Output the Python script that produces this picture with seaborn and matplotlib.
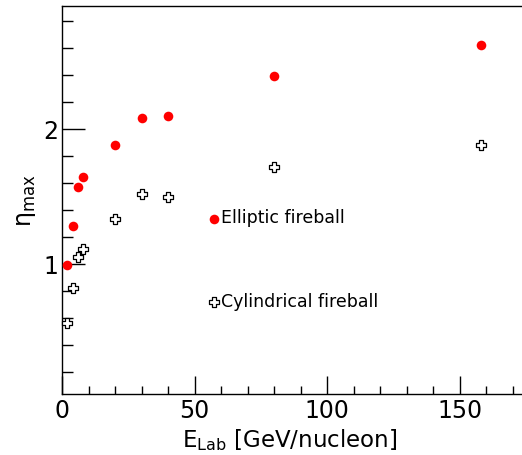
import matplotlib
matplotlib.use("Agg")
import matplotlib.pyplot as plt
import seaborn as sns
import pandas as pd
from matplotlib.ticker import MultipleLocator, FixedLocator

# Data
energy = [2, 4, 6, 8, 20, 30, 40, 80, 158]
eta_elliptic = [0.99, 1.28, 1.57, 1.645, 1.88, 2.085, 2.095, 2.39, 2.62]
eta_cylindrical = [0.565, 0.825, 1.055, 1.11, 1.335, 1.52, 1.50, 1.72, 1.88]
series_labels = ["Elliptic fireball", "Cylindrical fireball"]
x_ticks = [0, 50, 100, 150]
y_ticks = [1, 2]

sns.set_style("white")
plt.rcParams["font.family"] = ["DejaVu Sans"]
plt.rcParams["mathtext.fontset"] = "dejavusans"
plt.rcParams["text.color"] = "black"
plt.rcParams["axes.labelcolor"] = "black"
plt.rcParams["xtick.color"] = "black"
plt.rcParams["ytick.color"] = "black"

fig = plt.figure(figsize=(5.22, 4.55), dpi=100)
ax = fig.add_axes([62 / 522, 60.7 / 455, 478 / 522, 388 / 455])

df_e = pd.DataFrame({"E": energy, "eta": eta_elliptic})
df_c = pd.DataFrame({"E": energy, "eta": eta_cylindrical})

sns.scatterplot(data=df_e, x="E", y="eta", ax=ax, color="#ff0000", marker="o",
                s=48, linewidth=0, label=series_labels[0], clip_on=False, zorder=3)
sns.scatterplot(data=df_c, x="E", y="eta", ax=ax, color="white", marker="P",
                s=55, edgecolor="black", linewidth=0.9, label=series_labels[1],
                clip_on=False, zorder=3)

ax.set_xlim(0, 180.2)
ax.set_ylim(0.035, 2.91)

ax.xaxis.set_major_locator(FixedLocator(x_ticks))
ax.xaxis.set_minor_locator(MultipleLocator(10))
ax.yaxis.set_major_locator(FixedLocator(y_ticks))
ax.yaxis.set_minor_locator(MultipleLocator(0.2))
ax.set_xticklabels([str(t) for t in x_ticks])
ax.set_yticklabels([str(t) for t in y_ticks])

ax.tick_params(axis="both", which="both", direction="in", color="black", width=1.0,
               labelsize=17, labelcolor="black", top=False, right=False,
               bottom=True, left=True)
ax.tick_params(axis="y", which="major", length=16.5, pad=3)
ax.tick_params(axis="y", which="minor", length=8)
ax.tick_params(axis="x", which="major", length=13, pad=3.5)
ax.tick_params(axis="x", which="minor", length=6)

for side in ["left", "bottom", "top", "right"]:
    ax.spines[side].set_visible(True)
    ax.spines[side].set_color("black")
    ax.spines[side].set_linewidth(1.0)

ax.set_xlabel(r"E$_{\mathrm{Lab}}$ [GeV/nucleon]", fontsize=16.5)
ax.xaxis.set_label_coords(0.477, -0.085)
ax.set_ylabel(r"η$_{\mathrm{max}}$", fontsize=17)
ax.yaxis.set_label_coords(-0.05, 0.5)

leg = ax.legend(loc="center left", bbox_to_anchor=(0.3067, 0.346), frameon=False,
                fontsize=12.5, handlelength=0.6, handletextpad=0.1, labelspacing=3.75,
                borderpad=0, borderaxespad=0, markerscale=1.0)

fig.savefig("out.png", dpi=100)
